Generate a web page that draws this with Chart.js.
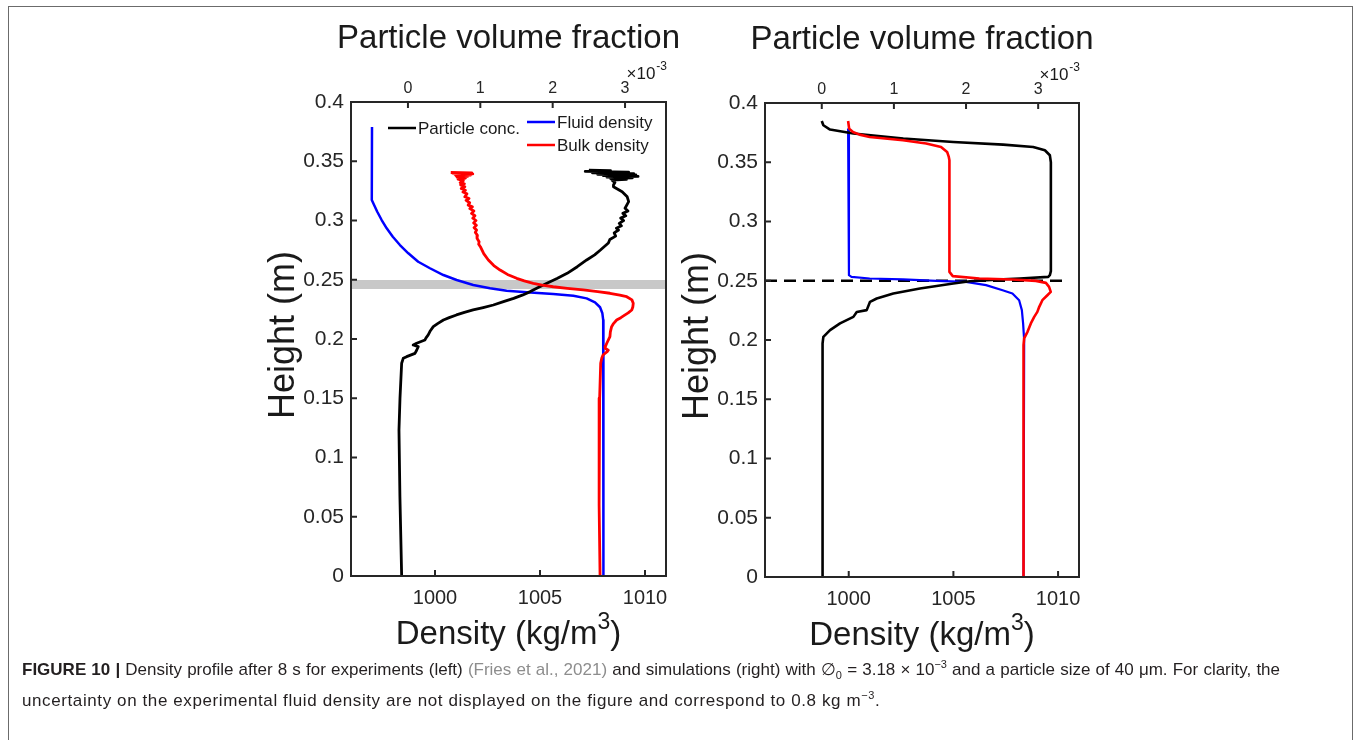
<!DOCTYPE html>
<html>
<head>
<meta charset="utf-8">
<title>Density profiles</title>
<script src="https://cdn.jsdelivr.net/npm/chart.js@4.4.1/dist/chart.umd.min.js"></script>
<style>
  html, body { margin: 0; padding: 0; background: #fff; }
  body { width: 1354px; height: 740px; position: relative; overflow: hidden;
         font-family: "Liberation Sans", Arial, Helvetica, sans-serif; }
  #frame { position: absolute; left: 8px; top: 6px; width: 1345px; height: 800px;
           border: 1px solid #6b6b6b; box-sizing: border-box; }
  .plot { position: absolute; top: 0; }
  #caption { position: absolute; left: 22px; top: 654px; font-size: 17px; line-height: 31px;
             color: #231f20; white-space: nowrap; }
  #caption .first { width: 1258px; text-align: justify; text-align-last: justify; white-space: normal; }
  #caption .last { letter-spacing: 0.6px; }
  #caption b { font-weight: bold; }
  #caption .ref { color: #8d8d8d; }
  #caption sub, #caption sup { font-size: 11px; line-height: 0; }
</style>
</head>
<body>
<div id="frame"></div>
<canvas id="expPlot" class="plot" width="470" height="660" style="left:230px"></canvas>
<canvas id="simPlot" class="plot" width="470" height="660" style="left:645px"></canvas>
<div id="caption">
  <div class="first"><b>FIGURE 10 |</b> Density profile after 8 s for experiments (left) <span class="ref">(Fries et al., 2021)</span> and simulations (right) with &#8709;<sub>0</sub> = 3.18 &times; 10<sup>&minus;3</sup> and a particle size of 40 &mu;m. For clarity, the</div>
  <div class="last">uncertainty on the experimental fluid density are not displayed on the figure and correspond to 0.8 kg m<sup>&minus;3</sup>.</div>
</div>
<script>
// Experiment (left panel): profiles listed from the top of the tank downwards
const expFluidHeight = [0.379, 0.3173, 0.3131, 0.3074, 0.3004, 0.2934, 0.2863, 0.2793, 0.2723, 0.2652, 0.2597, 0.2540, 0.2498, 0.2456, 0.2428, 0.2408, 0.2394, 0.2380, 0.2365, 0.2343, 0.2310, 0.2268, 0.2217, 0.2160, 0.0];
const expFluidDensity = [997.0, 996.99, 997.10, 997.25, 997.46, 997.70, 997.99, 998.33, 998.73, 999.20, 999.76, 1000.40, 1001.03, 1001.82, 1002.62, 1003.41, 1004.37, 1005.63, 1006.59, 1007.22, 1007.62, 1007.86, 1007.97, 1008.01, 1008.02];

const expBulkHeight = [0.3405, 0.3401, 0.3397, 0.3393, 0.3389, 0.3384, 0.3379, 0.3373, 0.3366, 0.3358, 0.3348, 0.3336,
    0.3320, 0.3310, 0.3300, 0.3285, 0.3270, 0.3255, 0.3240, 0.3225, 0.3200, 0.3185, 0.3170, 0.3150, 0.3130, 0.3115, 0.3100, 0.3080, 0.3060, 0.3040,
    0.3020, 0.3000, 0.2980, 0.2960, 0.2940, 0.2920, 0.2900, 0.2875, 0.2850, 0.2820, 0.2800, 0.2779,
    0.2720, 0.2667, 0.2620, 0.2582, 0.2545, 0.2512, 0.2490, 0.2470, 0.2455, 0.2441, 0.2428, 0.2414, 0.2400, 0.2386, 0.2370, 0.2357, 0.2330, 0.2301,
    0.2270, 0.2245, 0.2220, 0.2203, 0.2180, 0.2160, 0.2130, 0.2104, 0.2060, 0.2020, 0.1964, 0.1940, 0.1922, 0.1905, 0.1893, 0.1865, 0.1837, 0.1795,
    0.1500, 0.1232, 0.0600, 0.0];
const expBulkDensity = [1000.75, 1001.75, 1000.85, 1001.80, 1000.95, 1001.70, 1001.00, 1001.55, 1001.05, 1001.45, 1001.10, 1001.35,
    1001.20, 1001.40, 1001.22, 1001.42, 1001.25, 1001.45, 1001.33, 1001.52, 1001.42, 1001.62, 1001.48, 1001.65, 1001.58, 1001.78, 1001.66, 1001.85, 1001.74, 1001.90,
    1001.80, 1001.95, 1001.84, 1001.97, 1001.86, 1001.98, 1001.92, 1002.02, 1002.00, 1002.10, 1002.08, 1002.16,
    1002.32, 1002.54, 1002.80, 1003.10, 1003.45, 1003.89, 1004.25, 1004.68, 1005.10, 1005.63, 1006.30, 1007.06, 1007.75, 1008.33, 1008.80, 1009.13, 1009.38, 1009.44,
    1009.42, 1009.37, 1009.20, 1009.05, 1008.85, 1008.65, 1008.50, 1008.41, 1008.35, 1008.33, 1008.18, 1008.12, 1008.10, 1008.25, 1008.20, 1008.00, 1007.94, 1007.89,
    1007.84, 1007.81, 1007.82, 1007.86];

// particle volume fraction, in units of 1e-3
const expConcHeight = [0.3425, 0.3420, 0.3414, 0.3408, 0.3402, 0.3396, 0.3390, 0.3384, 0.3378, 0.3372, 0.3366, 0.3360, 0.3354, 0.3347, 0.3340,
    0.3320, 0.3300, 0.3285, 0.3243, 0.3200, 0.3159, 0.3103, 0.3080, 0.3060, 0.3040, 0.3020, 0.3000, 0.2976, 0.2955, 0.2935, 0.2920, 0.2895, 0.2868,
    0.2840, 0.2810, 0.2751, 0.2710, 0.2667, 0.2610, 0.2554, 0.2510, 0.2470, 0.2435, 0.2400, 0.2370, 0.2343, 0.2315, 0.2287, 0.2265, 0.2245, 0.2225,
    0.2203, 0.2180, 0.2160, 0.2130, 0.2104, 0.2070, 0.2034, 0.2010, 0.1992, 0.1964, 0.1949, 0.1935, 0.1905, 0.1879, 0.1851, 0.1837, 0.1795,
    0.1500, 0.1232, 0.0669, 0.0];
const expConcFraction = [2.50, 2.80, 2.45, 3.05, 2.55, 3.12, 2.62, 3.15, 2.70, 3.18, 2.75, 3.10, 2.80, 3.02, 2.82,
    2.86, 2.84, 2.84, 2.96, 3.03, 3.05, 3.00, 3.04, 2.97, 3.01, 2.94, 2.98, 2.92, 2.95, 2.88, 2.91, 2.85, 2.87,
    2.79, 2.77, 2.66, 2.58, 2.47, 2.34, 2.20, 2.06, 1.92, 1.80, 1.69, 1.58, 1.46, 1.32, 1.18, 1.04, 0.90, 0.78,
    0.67, 0.57, 0.49, 0.41, 0.35, 0.31, 0.28, 0.25, 0.235, 0.12, 0.073, 0.142, 0.12, 0.097, -0.018, -0.065, -0.087,
    -0.11, -0.124, -0.111, -0.087];

// Simulation (right panel)
const simFluidHeight = [0.3784, 0.2547, 0.2533, 0.2519, 0.2511, 0.2499, 0.2490, 0.2463, 0.2420, 0.2393, 0.2336, 0.2252, 0.2140, 0.1999, 0.0];
const simFluidDensity = [999.97, 1000.01, 1000.13, 1001.0, 1002.59, 1004.18, 1005.60, 1006.56, 1007.35, 1007.82, 1008.14, 1008.27, 1008.33, 1008.38, 1008.35];

const simBulkHeight = [0.3848, 0.3784, 0.3755, 0.3733, 0.3713, 0.3685, 0.3658, 0.3629, 0.3587, 0.3545, 0.3517, 0.2575, 0.2539, 0.2519, 0.2511, 0.2499, 0.2482, 0.2448, 0.2406, 0.2378, 0.2336, 0.2280, 0.2237, 0.2195, 0.2140, 0.2069, 0.2013, 0.1957, 0.0];
const simBulkDensity = [999.97, 1000.02, 1000.20, 1000.52, 1001.0, 1002.59, 1003.70, 1004.41, 1004.70, 1004.78, 1004.81, 1004.81, 1004.97, 1006.24, 1007.82, 1008.94, 1009.42, 1009.57, 1009.65, 1009.49, 1009.25, 1009.10, 1009.01, 1008.86, 1008.70, 1008.54, 1008.38, 1008.35, 1008.35];

const simConcHeight = [0.3848, 0.3812, 0.3776, 0.3742, 0.3700, 0.3671, 0.3649, 0.3629, 0.3601, 0.3559, 0.3500, 0.2581, 0.2547, 0.2533, 0.2519, 0.2505, 0.2496, 0.2477, 0.2435, 0.2393, 0.2350, 0.2322, 0.2252, 0.2237, 0.2195, 0.2140, 0.2083, 0.2026, 0.1971, 0.0];
const simConcFraction = [0.0, 0.022, 0.115, 0.438, 1.13, 1.823, 2.515, 2.931, 3.093, 3.162, 3.176, 3.176, 3.162, 3.139, 2.746, 2.285, 2.054, 1.823, 1.361, 0.992, 0.762, 0.669, 0.623, 0.485, 0.438, 0.253, 0.115, 0.022, 0.011, 0.011];

// axes
const heightTicks = [0, 0.05, 0.1, 0.15, 0.2, 0.25, 0.3, 0.35, 0.4];
const densityTicks = [1000, 1005, 1010];
const fractionTicks = [0, 1, 2, 3];
const densityRange = [996, 1011];
const fractionRange = [-0.787, 3.566];

// shaded interface band (experiment) and interface line (simulation)
const interfaceBand = [0.2422, 0.2498];
const interfaceHeight = 0.25;
const interfaceSpan = [996, 1010.43];

const FONT = '"Liberation Sans", Arial, Helvetica, sans-serif';
const AXIS = '#262626';

function profile(values, heights) {
    return values.map((v, i) => ({ x: v, y: heights[i] }));
}

function line(label, color, values, heights, axis, width) {
    return {
        label: label,
        data: profile(values, heights),
        borderColor: color,
        backgroundColor: color,
        borderWidth: width,
        pointRadius: 0,
        pointHoverRadius: 0,
        showLine: true,
        tension: 0,
        borderJoinStyle: 'round',
        xAxisID: axis,
        yAxisID: 'y'
    };
}

function fixedTicks(values) {
    return function(scale) {
        scale.ticks = values.map(v => ({ value: v }));
    };
}

// box, inward tick marks, shading and the MATLAB-style text around each panel
const panelDecor = {
    id: 'panelDecor',
    beforeDatasetsDraw(chart, args, o) {
        if (!o.band) return;
        const { ctx, chartArea: a, scales } = chart;
        const top = scales.y.getPixelForValue(o.band[1]);
        const bottom = scales.y.getPixelForValue(o.band[0]);
        ctx.save();
        ctx.fillStyle = '#c8c8c8';
        ctx.fillRect(a.left, top, a.right - a.left, bottom - top);
        ctx.restore();
    },
    afterDatasetsDraw(chart) {
        const { ctx, chartArea: a, scales } = chart;
        const len = 6;
        ctx.save();
        ctx.strokeStyle = AXIS;
        ctx.lineWidth = 2;
        ctx.beginPath();
        scales.x.ticks.forEach(t => {
            const px = scales.x.getPixelForValue(t.value);
            ctx.moveTo(px, a.bottom);
            ctx.lineTo(px, a.bottom - len);
        });
        scales.x2.ticks.forEach(t => {
            const px = scales.x2.getPixelForValue(t.value);
            ctx.moveTo(px, a.top);
            ctx.lineTo(px, a.top + len);
        });
        scales.y.ticks.forEach(t => {
            const py = scales.y.getPixelForValue(t.value);
            ctx.moveTo(a.left, py);
            ctx.lineTo(a.left + len, py);
        });
        ctx.stroke();
        ctx.strokeRect(a.left, a.top, a.right - a.left, a.bottom - a.top);
        ctx.restore();
    },
    afterDraw(chart, args, o) {
        const { ctx, chartArea: a } = chart;
        const cx = (a.left + a.right) / 2;
        const cy = (a.top + a.bottom) / 2;
        ctx.save();
        ctx.fillStyle = '#1a1a1a';
        ctx.textBaseline = 'alphabetic';

        // top axis title and exponent
        ctx.font = '33px ' + FONT;
        ctx.textAlign = 'center';
        ctx.fillText('Particle volume fraction', cx, a.top - 54);

        ctx.textAlign = 'left';
        ctx.font = '12px ' + FONT;
        const expW = ctx.measureText('-3').width;
        ctx.font = '17px ' + FONT;
        const baseW = ctx.measureText('\u00d710').width;
        const ex = a.right - expW - baseW;
        ctx.fillText('\u00d710', ex, a.top - 23);
        ctx.font = '12px ' + FONT;
        ctx.fillText('-3', ex + baseW + 1, a.top - 32);

        // bottom axis title with superscript
        ctx.font = '33px ' + FONT;
        const partA = 'Density (kg/m';
        const wA = ctx.measureText(partA).width;
        const wB = ctx.measureText(')').width;
        ctx.font = '23px ' + FONT;
        const wS = ctx.measureText('3').width;
        const x0 = cx - (wA + wS + wB) / 2;
        const by = a.bottom + 68;
        ctx.font = '33px ' + FONT;
        ctx.fillText(partA, x0, by);
        ctx.font = '23px ' + FONT;
        ctx.fillText('3', x0 + wA, by - 15);
        ctx.font = '33px ' + FONT;
        ctx.fillText(')', x0 + wA + wS, by);

        // left axis title
        ctx.save();
        ctx.font = '36px ' + FONT;
        ctx.translate(a.left - 57, cy - 4);
        ctx.rotate(-Math.PI / 2);
        ctx.textAlign = 'center';
        ctx.fillText('Height (m)', 0, 0);
        ctx.restore();

        // legend entries
        (o.legend || []).forEach(item => {
            const ds = chart.data.datasets[item.ds];
            const lx = a.left + item.x;
            const ly = a.top + item.y;
            ctx.strokeStyle = ds.borderColor;
            ctx.lineWidth = 2.5;
            ctx.beginPath();
            ctx.moveTo(lx, ly);
            ctx.lineTo(lx + 28, ly);
            ctx.stroke();
            ctx.font = '17px ' + FONT;
            ctx.textAlign = 'left';
            ctx.textBaseline = 'middle';
            ctx.fillStyle = '#1a1a1a';
            ctx.fillText(ds.label, lx + 30, ly + 1);
        });
        ctx.restore();
    }
};

function makePanel(id, datasets, box, decor) {
    const tickFont = size => ({ family: FONT, size: size });
    return new Chart(document.getElementById(id), {
        type: 'scatter',
        data: { datasets: datasets },
        options: {
            responsive: false,
            animation: false,
            events: [],
            layout: { padding: { top: 0, left: 0, right: box.right, bottom: 0 } },
            plugins: {
                legend: { display: false },
                tooltip: { enabled: false },
                panelDecor: decor
            },
            scales: {
                x: {
                    type: 'linear',
                    position: 'bottom',
                    min: densityRange[0],
                    max: densityRange[1],
                    afterBuildTicks: fixedTicks(densityTicks),
                    afterFit: s => { s.height = box.bottom; },
                    grid: { display: false, drawTicks: false },
                    border: { display: false },
                    ticks: { color: AXIS, font: tickFont(20), padding: 10, maxRotation: 0,
                             callback: v => String(v) }
                },
                x2: {
                    type: 'linear',
                    position: 'top',
                    min: fractionRange[0],
                    max: fractionRange[1],
                    afterBuildTicks: fixedTicks(fractionTicks),
                    afterFit: s => { s.height = box.top; },
                    grid: { display: false, drawTicks: false },
                    border: { display: false },
                    ticks: { color: AXIS, font: tickFont(16), padding: 4, maxRotation: 0,
                             callback: v => String(v) }
                },
                y: {
                    type: 'linear',
                    position: 'left',
                    min: 0,
                    max: 0.4,
                    afterBuildTicks: fixedTicks(heightTicks),
                    afterFit: s => { s.width = box.left; },
                    grid: { display: false, drawTicks: false },
                    border: { display: false },
                    ticks: { color: AXIS, font: tickFont(21), padding: 7,
                             callback: v => String(Number(v.toFixed(2))) }
                }
            }
        },
        plugins: [panelDecor]
    });
}

makePanel('expPlot', [
    line('Bulk density', '#ff0000', expBulkDensity, expBulkHeight, 'x', 2.8),
    line('Particle conc.', '#000000', expConcFraction, expConcHeight, 'x2', 2.8),
    line('Fluid density', '#0000ff', expFluidDensity, expFluidHeight, 'x', 2.5)
], { left: 121, right: 34, top: 102, bottom: 84 }, {
    band: interfaceBand,
    legend: [
        { ds: 1, x: 37, y: 26 },
        { ds: 2, x: 176, y: 20 },
        { ds: 0, x: 176, y: 43 }
    ]
});

makePanel('simPlot', [
    line('Bulk density', '#ff0000', simBulkDensity, simBulkHeight, 'x', 2.6),
    line('Particle conc.', '#000000', simConcFraction, simConcHeight, 'x2', 2.6),
    line('Fluid density', '#0000ff', simFluidDensity, simFluidHeight, 'x', 2.2),
    Object.assign(line('Interface', '#000000', interfaceSpan,
        [interfaceHeight, interfaceHeight], 'x', 2.5), { borderDash: [12, 7] })
], { left: 120, right: 36, top: 103, bottom: 83 }, { band: null, legend: [] });
</script>
</body>
</html>
